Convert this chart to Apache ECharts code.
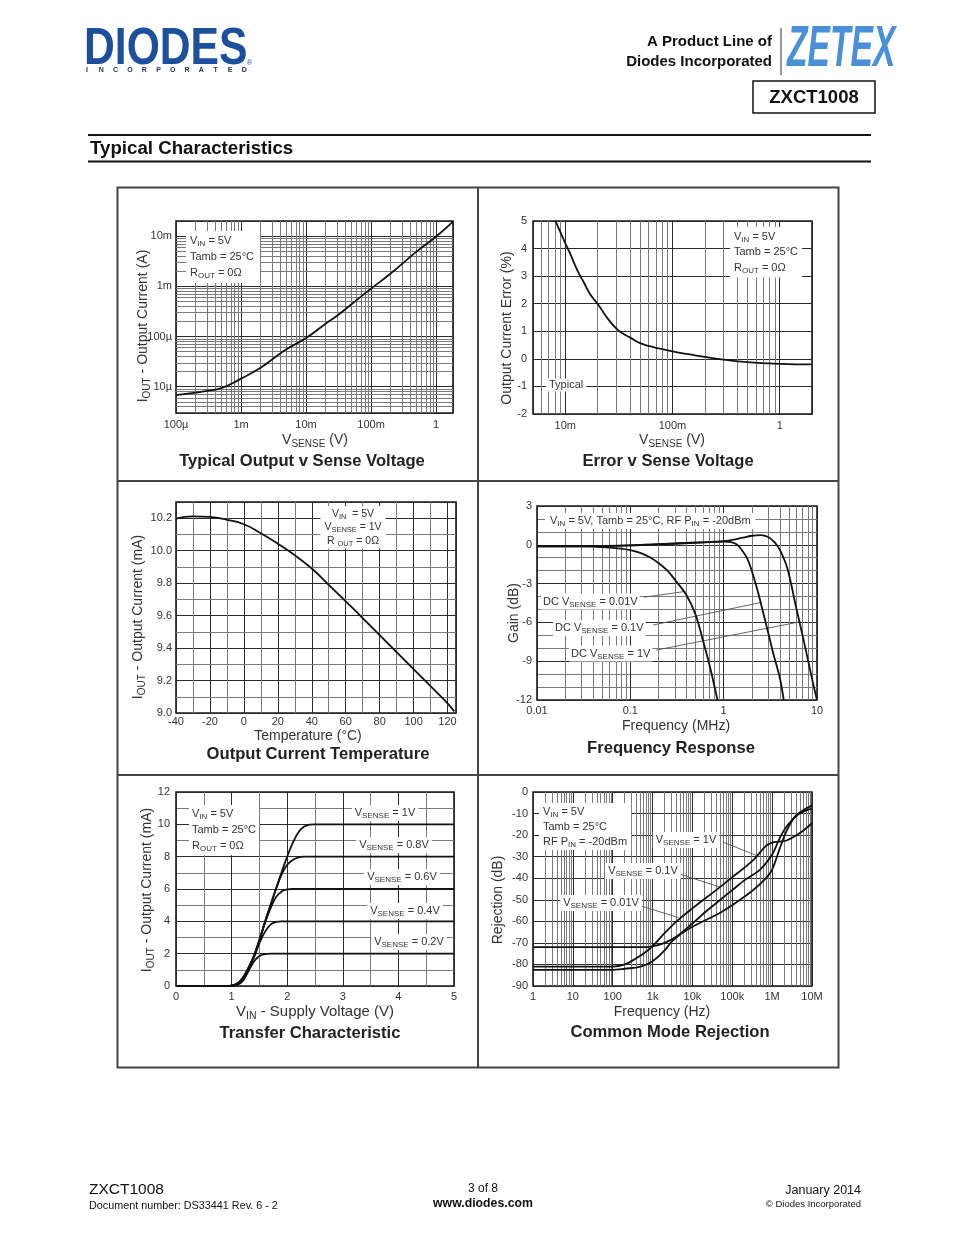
<!DOCTYPE html>
<html><head><meta charset="utf-8">
<script src="https://cdn.jsdelivr.net/npm/echarts@6.0.0/dist/echarts.min.js"></script>
<style>html,body{margin:0;padding:0;background:#fff;}#c{width:954px;height:1235px;}</style>
</head><body><div id="c"></div>
<script>
// ================= DATA =================
// Panel 1: Typical Output v Sense Voltage
const p1Vsense = [1e-4, 2e-4, 3e-4, 5e-4, 1e-3, 2e-3, 3e-3, 5e-3, 1e-2, 2e-2, 3e-2, 5e-2, 0.1, 0.2, 0.5, 1, 1.82];
const p1Iout   = [6.8e-6, 7.6e-6, 8.3e-6, 9.4e-6, 14.5e-6, 24e-6, 35e-6, 56e-6, 93e-6, 180e-6, 260e-6, 440e-6, 0.9e-3, 1.8e-3, 4.9e-3, 9.8e-3, 19.5e-3];
const p1XTicks = [1e-4, 1e-3, 1e-2, 0.1, 1];
const p1XLabels = ['100µ', '1m', '10m', '100m', '1'];
const p1YTicks = [1e-5, 1e-4, 1e-3, 1e-2];
const p1YLabels = ['10µ', '100µ', '1m', '10m'];

// Panel 2: Error v Sense Voltage
const p2Vsense = [0.0081, 0.009, 0.01, 0.011, 0.013, 0.015, 0.017, 0.02, 0.025, 0.03, 0.035, 0.04, 0.05, 0.06, 0.07, 0.1, 0.15, 0.2, 0.3, 0.5, 1, 2];
const p2Error  = [5.0, 4.6, 4.2, 3.85, 3.2, 2.75, 2.35, 2.0, 1.45, 1.1, 0.9, 0.78, 0.57, 0.47, 0.4, 0.27, 0.15, 0.07, -0.03, -0.12, -0.18, -0.2];
const p2XTicks = [0.01, 0.1, 1];
const p2XLabels = ['10m', '100m', '1'];
const p2YTicks = [-2, -1, 0, 1, 2, 3, 4, 5];
const p2YLabels = ['-2', '-1', '0', '1', '2', '3', '4', '5'];

// Panel 3: Output Current Temperature
const p3Temp = [-40, -30, -20, -10, 0, 10, 20, 30, 40, 50, 60, 70, 80, 90, 100, 110, 120, 124];
const p3Iout = [10.197, 10.212, 10.208, 10.19, 10.163, 10.107, 10.043, 9.972, 9.89, 9.79, 9.688, 9.585, 9.48, 9.375, 9.27, 9.165, 9.06, 9.01];
const p3XTicks = [-40, -20, 0, 20, 40, 60, 80, 100, 120];
const p3XLabels = ['-40', '-20', '0', '20', '40', '60', '80', '100', '120'];
const p3YTicks = [9.0, 9.2, 9.4, 9.6, 9.8, 10.0, 10.2];
const p3YLabels = ['9.0', '9.2', '9.4', '9.6', '9.8', '10.0', '10.2'];

// Panel 4: Frequency Response
const p4Freq001 = [0.01, 0.03, 0.05, 0.08, 0.1, 0.13, 0.16, 0.2, 0.25, 0.3, 0.4, 0.5, 0.6, 0.7, 0.8, 0.86];
const p4Gain001 = [-0.1, -0.12, -0.18, -0.3, -0.42, -0.65, -0.95, -1.4, -2.0, -2.7, -3.9, -5.4, -7.4, -9.2, -11, -12];
const p4Freq01  = [0.01, 0.05, 0.1, 0.2, 0.5, 0.8, 1.0, 1.2, 1.4, 1.6, 1.8, 2.0, 2.3, 2.6, 3.0, 3.4, 4.0, 4.4];
const p4Gain01  = [-0.12, -0.1, -0.05, 0.05, 0.15, 0.22, 0.25, 0.2, 0, -0.5, -1.1, -2.0, -3.5, -5.0, -6.8, -8.4, -10.3, -12];
const p4Freq1   = [0.01, 0.1, 0.3, 0.5, 1.0, 1.3, 1.6, 2.0, 2.5, 3.0, 3.5, 4.0, 4.8, 6.0, 7.0, 8.0, 9.0, 10];
const p4Gain1   = [-0.12, -0.05, 0.1, 0.18, 0.28, 0.4, 0.55, 0.7, 0.75, 0.6, 0.2, -0.4, -1.8, -4.9, -7.0, -8.9, -10.6, -12];
const p4XTicks = [0.01, 0.1, 1, 10];
const p4XLabels = ['0.01', '0.1', '1', '10'];
const p4YTicks = [-12, -9, -6, -3, 0, 3];
const p4YLabels = ['-12', '-9', '-6', '-3', '0', '3'];

// Panel 5: Transfer Characteristic
const p5Vin   = [0, 0.9, 1.0, 1.1, 1.2, 1.3, 1.4, 1.5, 1.6, 1.7, 1.8, 1.9, 2.0, 2.1, 2.2, 2.3, 2.4, 2.5, 2.6, 3, 4, 5];
const p5I_1V  = [0, 0, 0.03, 0.15, 0.5, 1.1, 1.85, 2.85, 3.95, 5.0, 6.05, 7.05, 8.0, 8.85, 9.5, 9.85, 9.98, 10, 10, 10, 10, 10];
const p5I_08V = [0, 0, 0.03, 0.15, 0.5, 1.1, 1.85, 2.85, 3.95, 5.0, 6.0, 6.9, 7.5, 7.8, 7.95, 8, 8, 8, 8, 8, 8, 8];
const p5I_06V = [0, 0, 0.02, 0.12, 0.45, 1.05, 1.8, 2.8, 3.9, 4.8, 5.5, 5.85, 5.97, 6, 6, 6, 6, 6, 6, 6, 6, 6];
const p5I_04V = [0, 0, 0.01, 0.1, 0.4, 1.0, 1.75, 2.65, 3.35, 3.8, 3.96, 4, 4, 4, 4, 4, 4, 4, 4, 4, 4, 4];
const p5I_02V = [0, 0, 0, 0.06, 0.3, 0.9, 1.5, 1.85, 1.97, 2, 2, 2, 2, 2, 2, 2, 2, 2, 2, 2, 2, 2];
const p5XTicks = [0, 1, 2, 3, 4, 5];
const p5XLabels = ['0', '1', '2', '3', '4', '5'];
const p5YTicks = [0, 2, 4, 6, 8, 10, 12];
const p5YLabels = ['0', '2', '4', '6', '8', '10', '12'];

// Panel 6: Common Mode Rejection
const p6FreqA = [1, 100, 200, 400, 700, 1000, 2000, 4000, 10000, 50000, 100000, 330000, 700000, 1e6, 1.5e6, 2.3e6, 5e6, 1e7];
const p6RejA  = [-81, -81, -80, -77, -74, -71.5, -65.5, -60, -54, -44, -39.5, -31.7, -25, -23.5, -23, -22.5, -19, -14.5];
const p6FreqB = [1, 500, 1000, 2000, 4000, 10000, 20000, 50000, 100000, 200000, 500000, 1e6, 1.5e6, 2.3e6, 4.9e6, 1e7];
const p6RejB  = [-72, -72, -71.6, -70, -67, -61, -56, -50, -45.5, -41, -36, -29, -22, -16, -10, -7.7];
const p6FreqC = [1, 100, 200, 500, 1000, 2000, 3000, 5000, 10000, 50000, 100000, 330000, 700000, 1e6, 1.5e6, 2.3e6, 3.5e6, 4.9e6, 1e7];
const p6RejC  = [-82.5, -82.5, -82, -81, -78.5, -73.5, -69.5, -66, -62.5, -56, -52.5, -45.6, -40, -36, -27, -18, -12, -9.5, -6.2];
const p6XTicks = [1, 10, 100, 1e3, 1e4, 1e5, 1e6, 1e7];
const p6XLabels = ['1', '10', '100', '1k', '10k', '100k', '1M', '10M'];
const p6YTicks = [-90, -80, -70, -60, -50, -40, -30, -20, -10, 0];
const p6YLabels = ['-90', '-80', '-70', '-60', '-50', '-40', '-30', '-20', '-10', '0'];

// Leader lines (data coordinates)
const p4Leaders = [[[0.139, -4.06], [0.39, -3.6]], [[0.176, -6.2], [2.56, -4.45]], [[0.19, -8.14], [6.6, -5.95]]];
const p6Leaders = [[[57600, -23.2], [490000, -30.1]], [[4300, -37.8], [49000, -44.1]], [[518, -52.9], [4400, -58.2]]];

// ================= HELPERS =================
const F = "'Liberation Sans', Arial, Helvetica, sans-serif";
const TC = '#333';
const MAJ = '#2b2b2b';
const MIN = '#7a7a7a';

function logMinors(min, max) {
  const out = [];
  for (let e = Math.floor(Math.log10(min)) - 1; e <= Math.ceil(Math.log10(max)); e++) {
    for (let m = 2; m <= 9; m++) {
      const v = +(m * Math.pow(10, e)).toPrecision(6);
      if (v > min * 1.0001 && v < max * 0.9999) out.push(v);
    }
  }
  return out;
}
const p1GridX = logMinors(1e-4, 1.82);
const p1GridY = logMinors(3e-6, 2e-2);
const p2GridX = logMinors(5e-3, 2);
const p3GridX = [-30, -10, 10, 30, 50, 70, 90, 110];
const p3GridY = [9.1, 9.3, 9.5, 9.7, 9.9, 10.1];
const p4GridX = logMinors(0.01, 10);
const p6GridX = logMinors(1, 1e7);

function fmt(ticks, labels, log) {
  return function (v) {
    for (let i = 0; i < ticks.length; i++) {
      const d = log ? Math.abs(Math.log10(v) - Math.log10(ticks[i])) : Math.abs(v - ticks[i]);
      if (d < 1e-6) return labels[i];
    }
    return '';
  };
}

function axis(gi, type, o) {
  const a = {
    gridIndex: gi, type: type, min: o.min, max: o.max,
    axisLine: { show: false }, axisTick: { show: false },
    axisLabel: { show: true, color: TC, fontSize: 11, fontFamily: F, margin: o.margin == null ? 5 : o.margin, formatter: o.fmt },
    splitLine: { show: true, lineStyle: { color: MAJ, width: 1 } },
    minorTick: { show: false, splitNumber: o.minor || 5 },
    minorSplitLine: { show: !!o.minor, lineStyle: { color: MIN, width: 1 } },
    silent: true
  };
  if (o.interval != null) a.interval = o.interval;
  if (type === 'log') { a.logBase = 10; a.splitNumber = 10; }
  return a;
}

function gridLines(gi, xs, ys) {
  return {
    type: 'line', xAxisIndex: gi, yAxisIndex: gi, data: [], silent: true, z: 1, animation: false,
    markLine: {
      silent: true, symbol: ['none', 'none'], animation: false, precision: 12, label: { show: false },
      lineStyle: { color: MIN, width: 1, type: 'solid' }, emphasis: { disabled: true },
      data: xs.map(v => ({ xAxis: v })).concat(ys.map(v => ({ yAxis: v })))
    }
  };
}

function leaders(gi, segs) {
  return {
    type: 'line', xAxisIndex: gi, yAxisIndex: gi, data: [], silent: true, z: 4, animation: false,
    markLine: {
      silent: true, symbol: ['none', 'none'], animation: false, precision: 12, label: { show: false },
      lineStyle: { color: '#555', width: 0.9, type: 'solid' }, emphasis: { disabled: true },
      data: segs.map(s => [{ coord: s[0] }, { coord: s[1] }])
    }
  };
}

function curve(gi, xs, ys, sm) {
  return {
    type: 'line', xAxisIndex: gi, yAxisIndex: gi, data: xs.map((x, i) => [x, ys[i]]),
    showSymbol: false, symbol: 'none', smooth: sm == null ? 0.5 : sm,
    lineStyle: { color: '#111', width: 1.8 }, z: 5, animation: false, silent: true, clip: true
  };
}

function rich(n, s, col) {
  col = col || TC;
  return {
    n: { fontSize: n, fontFamily: F, fill: col, color: col },
    s: { fontSize: s, fontFamily: F, fill: col, color: col, padding: [Math.round(n * 0.55), 0, 0, 0] }
  };
}

function tx(x, y, text, o) {
  o = o || {};
  const st = {
    text: text, x: 0, y: 0,
    fill: o.color || TC,
    fontSize: o.size || 11, fontFamily: o.family || F,
    fontWeight: o.weight || 'normal', fontStyle: o.fstyle || 'normal',
    align: o.align || 'left', verticalAlign: o.va || 'middle',
    textAlign: o.align || 'left', textVerticalAlign: o.va || 'middle'
  };
  if (o.rich) st.rich = o.rich;
  if (o.lh) st.lineHeight = o.lh;
  if (o.bg) st.backgroundColor = o.bg;
  if (o.pad) st.padding = o.pad;
  return { type: 'text', x: x, y: y, z: 100, rotation: o.rot || 0, scaleX: o.sx || 1, silent: true, style: st };
}
function ln(x1, y1, x2, y2, w, c) {
  return { type: 'line', z: 100, silent: true, shape: { x1: x1, y1: y1, x2: x2, y2: y2 }, style: { stroke: c || '#222', lineWidth: w || 1 } };
}
function rc(x, y, w, h, lw, c) {
  return { type: 'rect', z: 100, silent: true, shape: { x: x, y: y, width: w, height: h }, style: { fill: 'none', stroke: c || '#222', lineWidth: lw || 1 } };
}

const R11 = rich(11, 8);
const R105 = rich(10.5, 7.5);
const R14 = rich(14, 10);

const sub = (a, b, c) => '{n|' + a + '}{s|' + b + '}{n|' + c + '}';
const TS = 16.6; // panel title size

// ================= LAYOUT =================
const grids = [
  { left: 176, top: 221, width: 277, height: 192 },
  { left: 533, top: 221, width: 279, height: 193 },
  { left: 176, top: 502, width: 280, height: 211 },
  { left: 537, top: 506, width: 280, height: 194 },
  { left: 176, top: 792, width: 278, height: 194 },
  { left: 533, top: 792, width: 279, height: 194 }
].map(g => Object.assign({ show: true, borderColor: '#1a1a1a', borderWidth: 1.6, backgroundColor: 'transparent', containLabel: false }, g));

const xAxes = [
  axis(0, 'log', { min: 1e-4, max: 1.82, fmt: fmt(p1XTicks, p1XLabels, true), margin: 6 }),
  axis(1, 'log', { min: 5e-3, max: 2, fmt: fmt(p2XTicks, p2XLabels, true), margin: 6 }),
  axis(2, 'value', { min: -40, max: 125, interval: 20, fmt: fmt(p3XTicks, p3XLabels, false), margin: 3 }),
  axis(3, 'log', { min: 0.01, max: 10, fmt: fmt(p4XTicks, p4XLabels, true), margin: 5 }),
  axis(4, 'value', { min: 0, max: 5, interval: 1, minor: 2, fmt: fmt(p5XTicks, p5XLabels, false), margin: 5 }),
  axis(5, 'log', { min: 1, max: 1e7, fmt: fmt(p6XTicks, p6XLabels, true), margin: 5 })
];
const yAxes = [
  axis(0, 'log', { min: 3e-6, max: 2e-2, fmt: fmt(p1YTicks, p1YLabels, true), margin: 4 }),
  axis(1, 'value', { min: -2, max: 5, interval: 1, fmt: fmt(p2YTicks, p2YLabels, false), margin: 6 }),
  axis(2, 'value', { min: 9.0, max: 10.3, interval: 0.2, fmt: fmt(p3YTicks, p3YLabels, false), margin: 4 }),
  axis(3, 'value', { min: -12, max: 3, interval: 3, minor: 3, fmt: fmt(p4YTicks, p4YLabels, false), margin: 5 }),
  axis(4, 'value', { min: 0, max: 12, interval: 2, minor: 2, fmt: fmt(p5YTicks, p5YLabels, false), margin: 6 }),
  axis(5, 'value', { min: -90, max: 0, interval: 10, fmt: fmt(p6YTicks, p6YLabels, false), margin: 5 })
];

const series = [
  gridLines(0, p1GridX, p1GridY),
  curve(0, p1Vsense, p1Iout),
  gridLines(1, p2GridX, []),
  curve(1, p2Vsense, p2Error),
  gridLines(2, p3GridX, p3GridY),
  curve(2, p3Temp, p3Iout),
  gridLines(3, p4GridX, []),
  curve(3, p4Freq001, p4Gain001, 0.35),
  curve(3, p4Freq01, p4Gain01, 0.35),
  curve(3, p4Freq1, p4Gain1, 0.35),
  leaders(3, p4Leaders),
  curve(4, p5Vin, p5I_1V, 0.25),
  curve(4, p5Vin, p5I_08V, 0.25),
  curve(4, p5Vin, p5I_06V, 0.25),
  curve(4, p5Vin, p5I_04V, 0.25),
  curve(4, p5Vin, p5I_02V, 0.25),
  gridLines(5, p6GridX, []),
  curve(5, p6FreqA, p6RejA, 0.4),
  curve(5, p6FreqB, p6RejB, 0.4),
  curve(5, p6FreqC, p6RejC, 0.4),
  leaders(5, p6Leaders)
];

// ================= GRAPHICS (page text & frame) =================
const G = [];
// Header
G.push(tx(84, 50, 'DIODES', { size: 52, weight: 'bold', color: '#1c4f9c', sx: 0.82 }));
G.push(tx(247, 63, '®', { size: 7, color: '#1c4f9c' }));
'INCORPORATED'.split('').forEach((ch, i) => G.push(tx(87 + i * 14.3, 70.5, ch, { size: 7, weight: 'bold', color: '#1d3560', align: 'center' })));
G.push(tx(772, 42, 'A Product Line of', { size: 15, weight: 'bold', color: '#111', align: 'right' }));
G.push(tx(772, 62, 'Diodes Incorporated', { size: 15, weight: 'bold', color: '#111', align: 'right' }));
G.push(ln(781, 28, 781, 75, 1, '#333'));
G.push(tx(787, 50, 'ZETEX', { size: 58, weight: 'bold', fstyle: 'italic', color: '#4a90d9', sx: 0.58 }));
G.push(rc(753, 81, 122, 32, 1.5, '#111'));
G.push(tx(814, 97.5, 'ZXCT1008', { size: 18.5, weight: 'bold', color: '#111', align: 'center' }));
G.push(ln(88, 135, 871, 135, 2, '#111'));
G.push(tx(90, 149, 'Typical Characteristics', { size: 18.7, weight: 'bold', color: '#111' }));
G.push(ln(88, 161.5, 871, 161.5, 2, '#111'));

// Panel frame
G.push(rc(117.5, 187.5, 721, 880, 2, '#444'));
G.push(ln(478, 187.5, 478, 1067.5, 2, '#444'));
G.push(ln(117.5, 481, 838.5, 481, 2, '#444'));
G.push(ln(117.5, 775, 838.5, 775, 2, '#444'));

// Panel 1 texts
G.push(tx(186, 231, sub('V', 'IN', ' = 5V') + '\n{n|Tamb = 25°C}\n' + sub('R', 'OUT', ' = 0Ω'), { rich: R11, lh: 16, bg: '#fff', pad: [2, 6, 2, 4], va: 'top' }));
G.push(tx(143, 326, sub('I', 'OUT', ' - Output Current (A)'), { rich: R14, rot: Math.PI / 2, align: 'center' }));
G.push(tx(315, 440, sub('V', 'SENSE', ' (V)'), { rich: R14, align: 'center' }));
G.push(tx(302, 461, 'Typical Output v Sense Voltage', { size: TS, weight: 'bold', color: '#222', align: 'center' }));

// Panel 2 texts
G.push(tx(730, 227, sub('V', 'IN', ' = 5V') + '\n{n|Tamb = 25°C}\n' + sub('R', 'OUT', ' = 0Ω'), { rich: R11, lh: 15.5, bg: '#fff', pad: [2, 4, 2, 4], va: 'top' }));
G.push(tx(546, 385, 'Typical', { size: 11, bg: '#fff', pad: [1, 3, 1, 3] }));
G.push(tx(507, 328, 'Output Current Error (%)', { size: 14, rot: Math.PI / 2, align: 'center' }));
G.push(tx(672, 440, sub('V', 'SENSE', ' (V)'), { rich: R14, align: 'center' }));
G.push(tx(668, 461, 'Error v Sense Voltage', { size: TS, weight: 'bold', color: '#222', align: 'center' }));

// Panel 3 texts
G.push(tx(353, 506, sub('V', 'IN', '  = 5V') + '\n' + sub('V', 'SENSE', ' = 1V') + '\n' + sub('R ', 'OUT', ' = 0Ω'), { rich: R105, lh: 13.5, bg: '#fff', pad: [1, 4, 1, 4], va: 'top', align: 'center' }));
G.push(tx(138, 617, sub('I', 'OUT', ' - Output Current (mA)'), { rich: R14, rot: Math.PI / 2, align: 'center' }));
G.push(tx(308, 736, 'Temperature (°C)', { size: 14, align: 'center' }));
G.push(tx(318, 754, 'Output Current Temperature', { size: TS, weight: 'bold', color: '#222', align: 'center' }));

// Panel 4 texts
G.push(tx(545, 521, sub('V', 'IN', ' = 5V, Tamb = 25°C, RF P') + '{s|IN}{n| = -20dBm}', { rich: R11, bg: '#fff', pad: [1, 5, 1, 5] }));
G.push(tx(541, 601.5, sub('DC V', 'SENSE', ' = 0.01V'), { rich: R11, bg: '#fff', pad: [1, 2, 1, 2] }));
G.push(tx(553, 628, sub('DC V', 'SENSE', ' = 0.1V'), { rich: R11, bg: '#fff', pad: [1, 2, 1, 2] }));
G.push(tx(569, 653.5, sub('DC V', 'SENSE', ' = 1V'), { rich: R11, bg: '#fff', pad: [1, 2, 1, 2] }));
G.push(tx(514, 613, 'Gain (dB)', { size: 14, rot: Math.PI / 2, align: 'center' }));
G.push(tx(676, 726, 'Frequency (MHz)', { size: 14, align: 'center' }));
G.push(tx(671, 748, 'Frequency Response', { size: TS, weight: 'bold', color: '#222', align: 'center' }));

// Panel 5 texts
G.push(tx(189, 805, sub('V', 'IN', ' = 5V') + '\n{n|Tamb = 25°C}\n' + sub('R', 'OUT', ' = 0Ω'), { rich: R11, lh: 16, bg: '#fff', pad: [1, 3, 1, 3], va: 'top' }));
G.push(tx(385, 813, sub('V', 'SENSE', ' = 1V'), { rich: R11, bg: '#fff', pad: [1, 3, 1, 3], align: 'center' }));
G.push(tx(394, 845, sub('V', 'SENSE', ' = 0.8V'), { rich: R11, bg: '#fff', pad: [1, 3, 1, 3], align: 'center' }));
G.push(tx(402, 877, sub('V', 'SENSE', ' = 0.6V'), { rich: R11, bg: '#fff', pad: [1, 3, 1, 3], align: 'center' }));
G.push(tx(405, 911, sub('V', 'SENSE', ' = 0.4V'), { rich: R11, bg: '#fff', pad: [1, 3, 1, 3], align: 'center' }));
G.push(tx(409, 942, sub('V', 'SENSE', ' = 0.2V'), { rich: R11, bg: '#fff', pad: [1, 3, 1, 3], align: 'center' }));
G.push(tx(147, 890, sub('I', 'OUT', ' - Output Current (mA)'), { rich: rich(14, 10), rot: Math.PI / 2, align: 'center' }));
G.push(tx(315, 1012, sub('V', 'IN', ' - Supply Voltage (V)'), { rich: rich(15, 10.5), align: 'center' }));
G.push(tx(310, 1033, 'Transfer Characteristic', { size: TS, weight: 'bold', color: '#222', align: 'center' }));

// Panel 6 texts
G.push(tx(539, 803, sub('V', 'IN', ' = 5V') + '\n{n|Tamb = 25°C}\n' + sub('RF P', 'IN', ' = -20dBm'), { rich: R11, lh: 15, bg: '#fff', pad: [1, 4, 1, 4], va: 'top' }));
G.push(tx(686, 840, sub('V', 'SENSE', ' = 1V'), { rich: R11, bg: '#fff', pad: [1, 3, 1, 3], align: 'center' }));
G.push(tx(643, 871, sub('V', 'SENSE', ' = 0.1V'), { rich: R11, bg: '#fff', pad: [1, 3, 1, 3], align: 'center' }));
G.push(tx(601, 903, sub('V', 'SENSE', ' = 0.01V'), { rich: R11, bg: '#fff', pad: [1, 3, 1, 3], align: 'center' }));
G.push(tx(498, 900, 'Rejection (dB)', { size: 14, rot: Math.PI / 2, align: 'center' }));
G.push(tx(662, 1012, 'Frequency (Hz)', { size: 14, align: 'center' }));
G.push(tx(670, 1032, 'Common Mode Rejection', { size: TS, weight: 'bold', color: '#222', align: 'center' }));

// Footer
G.push(tx(89, 1190, 'ZXCT1008', { size: 15.5, color: '#111' }));
G.push(tx(89, 1206, 'Document number: DS33441 Rev. 6 - 2', { size: 10.8, color: '#111' }));
G.push(tx(483, 1189, '3 of 8', { size: 12, color: '#111', align: 'center' }));
G.push(tx(483, 1204, 'www.diodes.com', { size: 12.3, weight: 'bold', color: '#111', align: 'center' }));
G.push(tx(861, 1191, 'January 2014', { size: 12.5, color: '#111', align: 'right' }));
G.push(tx(861, 1204, '© Diodes Incorporated', { size: 9.5, color: '#111', align: 'right' }));

const chart = echarts.init(document.getElementById('c'), null, { renderer: 'canvas', width: 954, height: 1235 });
chart.setOption({
  animation: false,
  backgroundColor: '#fff',
  textStyle: { fontFamily: F },
  grid: grids,
  xAxis: xAxes,
  yAxis: yAxes,
  series: series,
  graphic: { elements: G }
});
</script></body></html>
